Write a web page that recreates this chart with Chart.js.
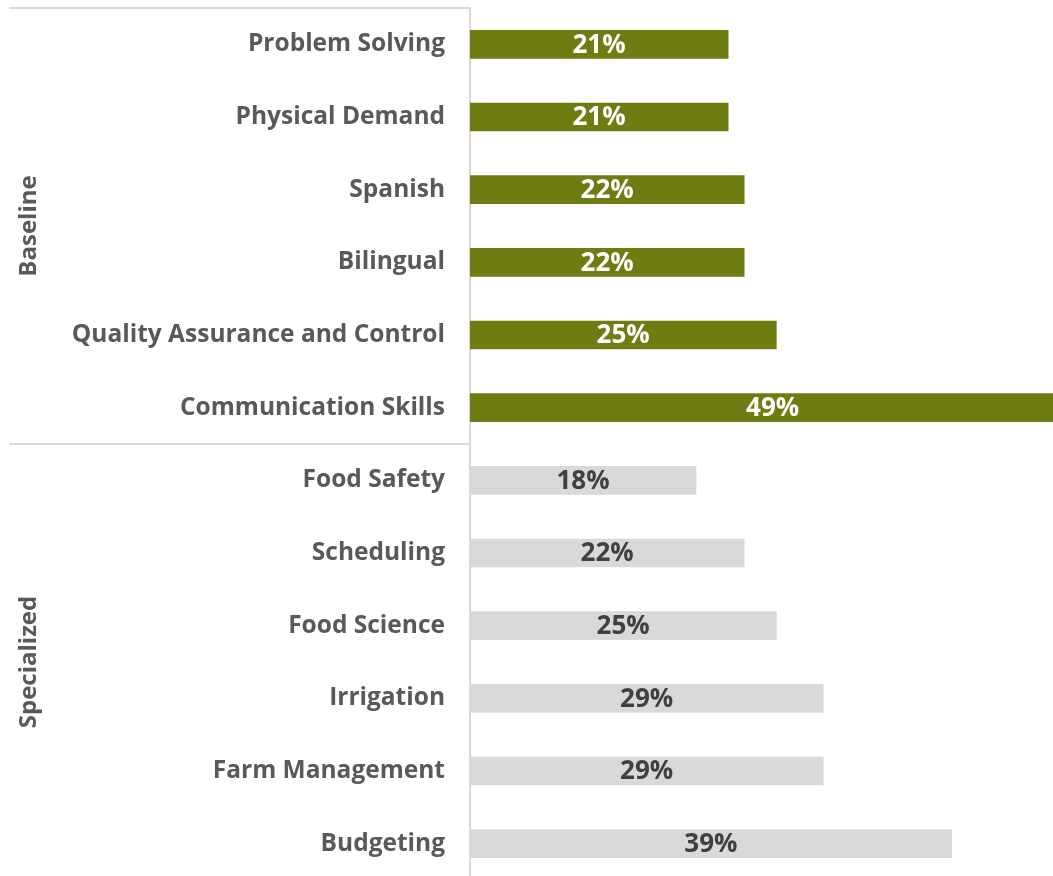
<!DOCTYPE html>
<html>
<head>
<meta charset="utf-8">
<script src="https://cdn.jsdelivr.net/npm/chart.js@4.4.1/dist/chart.umd.min.js"></script>
<style>
html,body{margin:0;padding:0;background:#fff;overflow:hidden;}
#wrap{width:1053px;height:884px;}
</style>
</head>
<body>
<div id="wrap"><canvas id="myChart" width="1053" height="884"></canvas></div>
<script>
// skills and share of postings asking for them
const categories = ["Problem Solving","Physical Demand","Spanish","Bilingual","Quality Assurance and Control","Communication Skills",
  "Food Safety","Scheduling","Food Science","Irrigation","Farm Management","Budgeting"];
const shares = [20.9,20.9,22.2,22.2,24.8,49.0,18.3,22.2,24.8,28.6,28.6,39.0];
const groups = ["Baseline","Specialized"];
const groupSizes = [6,6];
const axisMax = 47.2;

const olive = "#6f7c12";
const light = "#d9d9d9";
const fontName = "Open Sans";
const colors = categories.map((c,i)=> i < groupSizes[0] ? olive : light);
const labelColors = categories.map((c,i)=> i < groupSizes[0] ? "#ffffff" : "#404040");

// value labels + group labels and separator lines
const extras = {
  id:"extras",
  afterDatasetsDraw(chart){
    const ctx = chart.ctx;
    const x = chart.scales.x, y = chart.scales.y;
    const area = chart.chartArea;
    ctx.save();
    ctx.font = "bold 26px " + fontName;
    ctx.textAlign = "center";
    ctx.textBaseline = "middle";
    chart.getDatasetMeta(0).data.forEach((bar,i)=>{
      let mid = (x.getPixelForValue(0) + x.getPixelForValue(shares[i]))/2;
      ctx.fillStyle = labelColors[i];
      ctx.fillText(Math.round(shares[i]) + "%", mid, bar.y + 1);
    });
    // lines
    ctx.strokeStyle = "#d9d9d9";
    ctx.lineWidth = 2;
    ctx.beginPath();
    ctx.moveTo(9, area.top); ctx.lineTo(area.left, area.top);
    let sep = (y.getPixelForValue(groupSizes[0]-1) + y.getPixelForValue(groupSizes[0]))/2;
    ctx.moveTo(9, sep); ctx.lineTo(area.left, sep);
    ctx.stroke();
    // group names
    ctx.fillStyle = "#595959";
    ctx.font = "bold 24px " + fontName;
    let start = 0;
    groups.forEach((g,k)=>{
      let top = start === 0 ? area.top : (y.getPixelForValue(start-1) + y.getPixelForValue(start))/2;
      let end = start + groupSizes[k];
      let bottom = end >= categories.length ? area.bottom : (y.getPixelForValue(end-1) + y.getPixelForValue(end))/2;
      ctx.save();
      ctx.translate(29, (top+bottom)/2);
      ctx.rotate(-Math.PI/2);
      ctx.fillText(g, 0, 0);
      ctx.restore();
      start = end;
    });
    ctx.restore();
  }
};

new Chart(document.getElementById("myChart").getContext("2d"),{
  type:"bar",
  data:{
    labels:categories,
    datasets:[{
      data:shares,
      backgroundColor:colors,
      borderWidth:0,
      barThickness:28
    }]
  },
  options:{
    indexAxis:"y",
    responsive:false,
    animation:false,
    layout:{padding:{top:8,bottom:4,right:0,left:0}},
    plugins:{legend:{display:false},tooltip:{enabled:false}},
    scales:{
      x:{display:false,min:0,max:axisMax},
      y:{
        afterFit(scale){scale.width = 470; scale.paddingTop = 0; scale.paddingBottom = 0;},
        grid:{display:false,drawTicks:false},
        border:{display:true,color:"#d9d9d9",width:2},
        ticks:{color:"#595959",font:{family:fontName,weight:"bold",size:24.5},padding:25}
      }
    }
  },
  plugins:[extras]
});
</script>
</body>
</html>
